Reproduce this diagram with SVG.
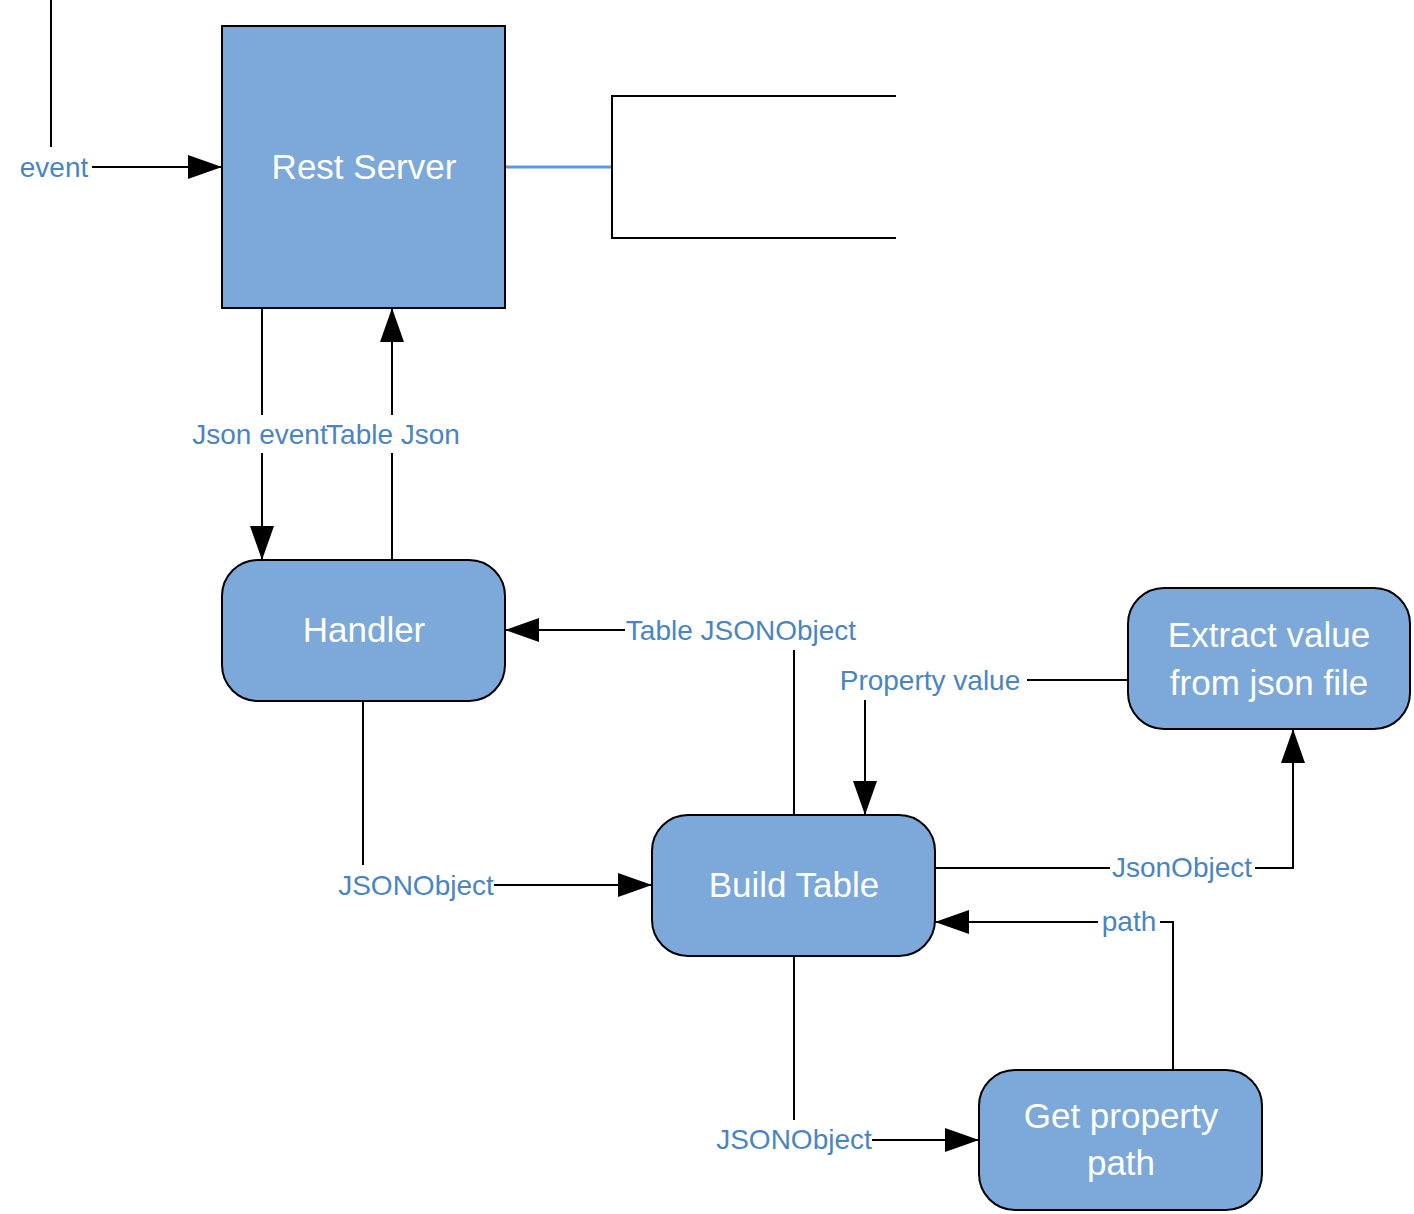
<svg xmlns="http://www.w3.org/2000/svg" width="1414" height="1214" viewBox="0 0 1414 1214">
<defs>
<marker id="arr" markerUnits="userSpaceOnUse" markerWidth="34" markerHeight="24" refX="34" refY="12" orient="auto">
<path d="M0,0 L34,12 L0,24 z" fill="#000"/>
</marker>
<style>
.node{fill:#7CA9D9;stroke:#000;stroke-width:2}
.nt{font-family:"Liberation Sans",Arial,sans-serif;font-size:35px;fill:#fff;text-anchor:middle}
.lbl{font-family:"Liberation Sans",Arial,sans-serif;font-size:28px;fill:#4A85C1;text-anchor:middle}
.c{fill:none;stroke:#000;stroke-width:2}
.ca{fill:none;stroke:#000;stroke-width:2;marker-end:url(#arr)}
</style>
</defs>
<rect width="1414" height="1214" fill="#fff"/>
<g id="connectors">
<path class="c" d="M51,0 V147"/>
<path class="ca" d="M92,167 H222"/>
<path class="c" d="M262,308 V415"/>
<path class="ca" d="M262,453 V560"/>
<path class="c" d="M392,560 V453"/>
<path class="ca" d="M392,415 V308"/>
<path class="c" d="M794,815 V650"/>
<path class="ca" d="M625,630 H505"/>
<path class="c" d="M1128,680 H1027"/>
<path class="ca" d="M865,700 V815"/>
<path class="c" d="M363,701 V865"/>
<path class="ca" d="M494,885 H652"/>
<path class="c" d="M935,868 H1110"/>
<path class="ca" d="M1255,868 H1293 V729"/>
<path class="c" d="M1173,1070 V922 H1160"/>
<path class="ca" d="M1098,922 H935"/>
<path class="c" d="M794,956 V1120"/>
<path class="ca" d="M872,1140 H979"/>
<path d="M505,167 H612" fill="none" stroke="#5B9BD5" stroke-width="3"/>
</g>
<g id="labels">
<text class="lbl" x="54" y="177">event</text>
<text class="lbl" x="260" y="444">Json event</text>
<text class="lbl" x="393" y="444">Table Json</text>
<text class="lbl" x="741" y="640">Table JSONObject</text>
<text class="lbl" x="930" y="690">Property value</text>
<text class="lbl" x="416" y="895">JSONObject</text>
<text class="lbl" x="1182" y="877">JsonObject</text>
<text class="lbl" x="1129" y="931">path</text>
<text class="lbl" x="794" y="1149">JSONObject</text>
</g>
<g id="rest-server">
<rect class="node" x="222" y="26" width="283" height="282"/>
<text class="nt" x="364" y="179">Rest Server</text>
</g>
<g id="data-store">
<path d="M896,96 H612 V238 H896" fill="none" stroke="#000" stroke-width="2"/>
</g>
<g id="handler">
<rect class="node" x="222" y="560" width="283" height="141" rx="36"/>
<text class="nt" x="364" y="642">Handler</text>
</g>
<g id="extract-value">
<rect class="node" x="1128" y="588" width="282" height="141" rx="36"/>
<text class="nt" x="1269" y="647">Extract value</text>
<text class="nt" x="1269" y="695">from json file</text>
</g>
<g id="build-table">
<rect class="node" x="652" y="815" width="283" height="141" rx="36"/>
<text class="nt" x="794" y="897">Build Table</text>
</g>
<g id="get-property-path">
<rect class="node" x="979" y="1070" width="283" height="140" rx="36"/>
<text class="nt" x="1121" y="1128">Get property</text>
<text class="nt" x="1121" y="1175">path</text>
</g>
</svg>
